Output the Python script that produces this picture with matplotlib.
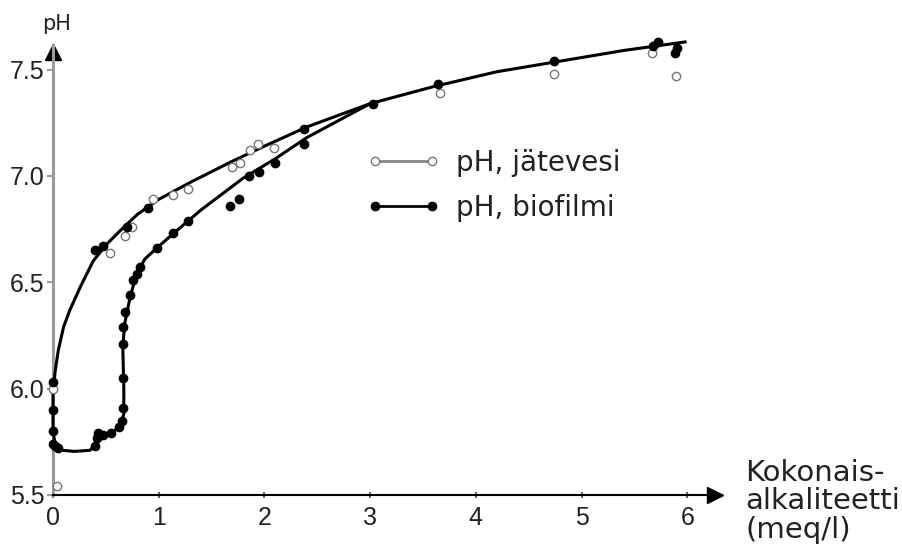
import numpy as np
import matplotlib.pyplot as plt
from matplotlib.lines import Line2D

# measured points (open circles = jatevesi, filled = biofilmi)
jat_x = [0.04, 0.0, 0.54, 0.68, 0.75, 0.95, 1.14, 1.28, 1.69, 1.77, 1.86, 1.94, 2.09,
         3.66, 4.74, 5.67, 5.89]
jat_y = [5.54, 6.00, 6.64, 6.72, 6.76, 6.89, 6.91, 6.94, 7.04, 7.06, 7.12, 7.15, 7.13,
         7.39, 7.48, 7.58, 7.47]

bio_x = [0.0, 0.0, 0.0, 0.0, 0.02, 0.05, 0.40, 0.42, 0.43, 0.47, 0.55, 0.62, 0.65, 0.66,
         0.66, 0.66, 0.66, 0.68, 0.73, 0.76, 0.79, 0.82, 0.98, 1.14, 1.28, 1.67, 1.76,
         1.85, 1.95, 2.10, 2.37, 0.40, 0.47, 0.70, 0.90, 2.37, 3.03, 3.64, 4.74, 5.72,
         5.68, 5.90, 5.88]
bio_y = [6.03, 5.90, 5.80, 5.74, 5.73, 5.72, 5.73, 5.77, 5.79, 5.78, 5.79, 5.82, 5.85, 5.91,
         6.05, 6.21, 6.29, 6.36, 6.44, 6.51, 6.54, 6.57, 6.66, 6.73, 6.79, 6.86, 6.89,
         7.00, 7.02, 7.06, 7.15, 6.65, 6.67, 6.76, 6.85, 7.22, 7.34, 7.43, 7.54, 7.63,
         7.61, 7.60, 7.58]

# fitted curves
jat_cx = [0.0, 0.02, 0.05, 0.10, 0.16, 0.26, 0.38, 0.51, 0.63, 0.80, 1.0, 1.3, 1.7, 2.0,
          2.4, 3.0, 3.6, 4.2, 4.8, 5.4, 5.98]
jat_cy = [5.98, 6.08, 6.18, 6.29, 6.37, 6.48, 6.60, 6.68, 6.74, 6.82, 6.89, 6.97, 7.07, 7.14,
          7.23, 7.34, 7.42, 7.49, 7.54, 7.59, 7.63]

bio_cx = [0.0, 0.0, 0.02, 0.09, 0.20, 0.35, 0.44, 0.55, 0.63, 0.67, 0.67, 0.66, 0.68, 0.73,
          0.79, 0.87, 0.98, 1.14, 1.40, 1.80, 2.10, 2.40, 2.70, 3.0]
bio_cy = [6.03, 5.80, 5.74, 5.71, 5.705, 5.71, 5.76, 5.79, 5.82, 5.88, 6.00, 6.20, 6.31, 6.43,
          6.54, 6.61, 6.66, 6.73, 6.84, 6.99, 7.08, 7.18, 7.26, 7.34]

yticks = [5.5, 6.0, 6.5, 7.0, 7.5]
xticks = [0, 1, 2, 3, 4, 5, 6]

fig = plt.figure(figsize=(9.02, 5.55), dpi=100)
ax = fig.add_axes([53/902, 60/555, 669/902, 450/555])
ax.set_xlim(0, 669/105.7)
ax.set_ylim(5.5, 5.5 + 450/212.7)

ax.plot(jat_cx, jat_cy, color='black', lw=2.2, clip_on=False, zorder=3)
ax.plot(bio_cx, bio_cy, color='black', lw=2.2, clip_on=False, zorder=3)
ax.plot(jat_x, jat_y, 'o', ms=6, mfc='white', mec='#777777', mew=1.0, clip_on=False, zorder=4)
ax.plot(bio_x, bio_y, 'o', ms=6, mfc='black', mec='black', clip_on=False, zorder=5)

for s in ['top', 'right']:
    ax.spines[s].set_visible(False)
ax.spines['left'].set_color('#9a9a9a')
ax.spines['left'].set_linewidth(2.2)
ax.spines['bottom'].set_color('black')
ax.spines['bottom'].set_linewidth(1.5)

# axis arrows
ax.plot([0], [0.985], marker='^', ms=11, color='black', transform=ax.transAxes, clip_on=False)
ax.plot([0.99], [0], marker='>', ms=11, color='black', transform=ax.transAxes, clip_on=False)

tickfont = dict(family=['Liberation Sans', 'DejaVu Sans'], size=18)
ax.set_yticks(yticks)
ax.set_yticklabels(['%.1f' % v for v in yticks], fontdict=tickfont, color='#222222')
ax.set_xticks(xticks)
ax.set_xticklabels([str(v) for v in xticks], fontdict=tickfont, color='#222222')
ax.tick_params(axis='y', length=4, width=1.5, color='#9a9a9a', pad=2)
ax.tick_params(axis='x', length=4, width=1.5, color='#666666', pad=6, direction='inout')

fig.text(42/902, 1 - 30/555, 'pH', fontsize=15, family='DejaVu Sans', color='#222222', va='baseline')
fig.text(745/902, 1 - 459/555, 'Kokonais-\nalkaliteetti\n(meq/l)', fontsize=21,
         family='DejaVu Sans', color='#222222', va='top', linespacing=1.02)

handles = [Line2D([], [], color='#888888', lw=2, marker='o', ms=6, mfc='white', mec='#777777'),
           Line2D([], [], color='black', lw=2, marker='o', ms=6, mfc='black')]
fig.legend(handles, ['pH, jätevesi', 'pH, biofilmi'], loc='upper left',
           bbox_to_anchor=(353/902, 1 - 135/555), frameon=False, numpoints=2,
           handlelength=2.65, handletextpad=0.54, labelspacing=0.6, borderpad=0,
           prop={'family': 'DejaVu Sans', 'size': 20}, labelcolor='#222222')

fig.savefig('out.png', dpi=100)
